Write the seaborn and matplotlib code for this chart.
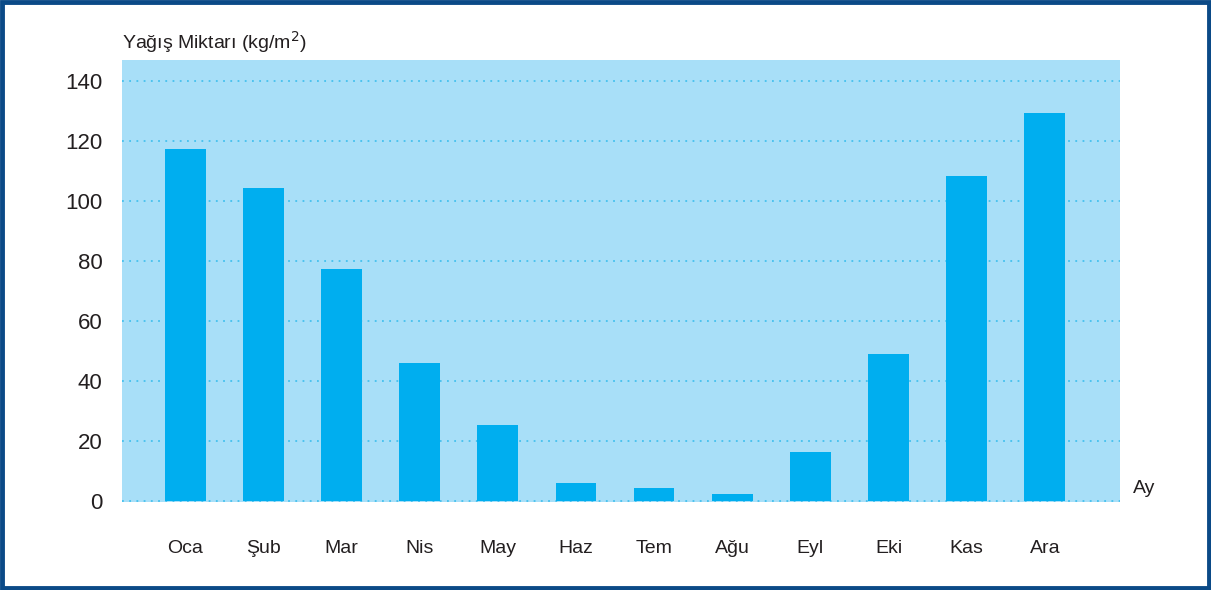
import matplotlib
matplotlib.use("Agg")
import matplotlib.pyplot as plt
import seaborn as sns
import pandas as pd
from matplotlib.patches import Rectangle

# Aylık yağış verisi
months = ['Oca', 'Şub', 'Mar', 'Nis', 'May', 'Haz',
          'Tem', 'Ağu', 'Eyl', 'Eki', 'Kas', 'Ara']
rain = [117.5, 104.5, 77.5, 46, 25.5, 6, 4.5, 2.3, 16.5, 49, 108.5, 129.5]
y_ticks = [0, 20, 40, 60, 80, 100, 120, 140]

df = pd.DataFrame({'Ay': months, 'Yagis': rain})

sns.set_theme(style='white')
plt.rcParams['font.family'] = ['Liberation Sans', 'DejaVu Sans']

fig = plt.figure(figsize=(12.11, 5.90), dpi=100)
ax = fig.add_axes([0.1007, 0.149, 0.824, 0.749])
ax.set_facecolor('#a8dff8')

sns.barplot(data=df, x='Ay', y='Yagis', color='#00aeef', width=0.52,
            saturation=1, linewidth=0, ax=ax, zorder=3)

ax.set_ylim(-0.3, 147)
ax.set_xlim(-0.81, 11.96)
ax.set_yticks(y_ticks)
ax.grid(axis='y', color='#45c0ee', linestyle=(0, (1, 3)), linewidth=1.3, zorder=1)
ax.grid(axis='x', visible=False)
ax.set_axisbelow(True)
for s in ax.spines.values():
    s.set_visible(False)

ax.tick_params(axis='y', length=0, pad=14, labelsize=16, labelcolor='#231f20')
ax.tick_params(axis='x', length=0, pad=27, labelsize=14, labelcolor='#231f20')
ax.set_xlabel('')
ax.set_ylabel('')

fig.text(0.1007, 0.907, 'Yağış Miktarı (kg/m$^2$)', fontsize=14, color='#231f20',
         ha='left', va='bottom')
ax.text(1.013, 0.03, 'Ay', transform=ax.transAxes, fontsize=14, color='#231f20',
        ha='left', va='center')

# Çerçeve
fig.patches.append(Rectangle((0.0015, 0.003), 0.997, 0.994, transform=fig.transFigure,
                             fill=False, edgecolor='#0b4a87', linewidth=3.5))

fig.savefig('out.png', dpi=100)
